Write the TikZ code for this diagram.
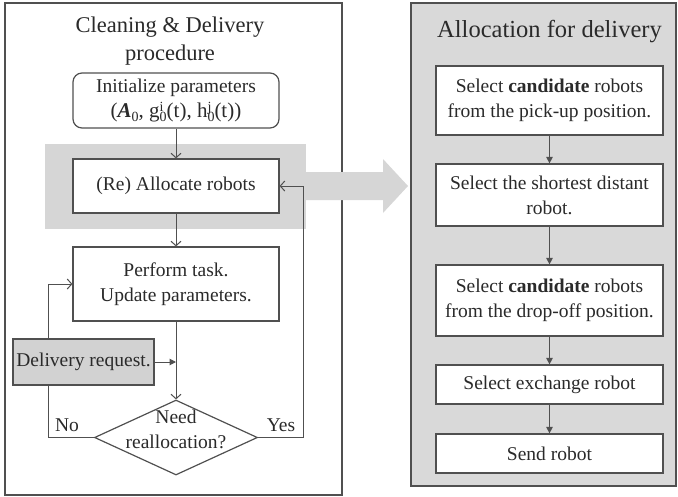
\documentclass[tikz,border=0pt]{standalone}
\usepackage{fontspec}
\setmainfont{Liberation Serif}
\usetikzlibrary{arrows.meta,shapes.geometric}
\definecolor{linegray}{HTML}{505050}
\definecolor{textgray}{HTML}{2A2A2A}
\definecolor{panelgray}{HTML}{D9D9D9}
\definecolor{bandgray}{HTML}{D6D6D6}
\definecolor{reqgray}{HTML}{D2D2D2}
% stacked sub- and superscript set in text mode
\newcommand{\idxfont}{\fontsize{14}{14}\selectfont}
\newcommand{\idx}[2]{\rlap{\raisebox{6.5pt}{\idxfont #2}}\raisebox{-3.5pt}{\idxfont #1}}
\tikzset{
  every node/.style={text=textgray, font=\fontsize{19.5}{25}\selectfont},
  panel/.style={draw=linegray, line width=1.1pt},
  stepbox/.style={draw=linegray, line width=1.2pt, fill=white, align=center,
    inner sep=0pt, anchor=center},
  openarrow/.style={draw=linegray, line width=1pt, -{Straight Barb[length=4.5pt,width=10pt]}},
  filledarrow/.style={draw=linegray, line width=1pt, -{Triangle[length=6.5pt,width=6.5pt]}},
  plainline/.style={draw=linegray, line width=1pt},
}
\begin{document}
\begin{tikzpicture}[x=1pt,y=-1pt]
\useasboundingbox (0,0) rectangle (678,496);

% ---- left panel: cleaning & delivery procedure ----
\draw[panel, fill=white] (5,3) rectangle (342,495);
\node[font=\fontsize{22.5}{28}\selectfont, align=center] (ltitle) at (170,41)
  {Cleaning \& Delivery\\procedure};

% highlighted allocation step
\fill[bandgray] (45,144) rectangle (306,229);

\node[stepbox, rounded corners=9pt, minimum width=206pt, minimum height=55pt] (init) at (176,100.5)
  {Initialize parameters\\
   {\fontsize{21}{25}\selectfont(\textbf{\textit{A}}\raisebox{-3.5pt}{\idxfont 0},\ g\idx{0}{i}(t),\ h\idx{0}{j}(t))}};
\node[stepbox, minimum width=206pt, minimum height=54pt] (alloc) at (176,186) {(Re) Allocate robots};
\node[stepbox, minimum width=206pt, minimum height=74pt] (perform) at (176,284)
  {Perform task.\\Update parameters.};
\node[diamond, draw=linegray, line width=1.2pt, fill=white, inner sep=0pt,
      minimum width=163pt, minimum height=75pt,
      label={[align=center, yshift=8.5pt]center:Need\\reallocation?}] (dec) at (176,437.5) {};

% feedback corners
\coordinate (nocorner) at (48,437.5);
\coordinate (yescorner) at (303,437.5);
\coordinate (join) at (perform.south |- 0,362);

\draw[plainline] (dec.west) -- (nocorner);
\draw[openarrow] (nocorner) |- (perform.west);
\draw[plainline] (dec.east) -- (yescorner);
\draw[openarrow] (yescorner) |- (alloc.east);

\node[stepbox, fill=reqgray, minimum width=141pt, minimum height=46pt] (req) at (83.5,362) {Delivery request.};

\draw[openarrow] (init) -- (alloc);
\draw[openarrow] (alloc) -- (perform);
\draw[openarrow] (perform) -- (dec.north);
\draw[filledarrow] (req.east) -- (join);

\node (nolabel) at (67,425) {No};
\node (yeslabel) at (281,425) {Yes};

% ---- right panel: allocation for delivery ----
\draw[panel, fill=panelgray] (411,3) rectangle (676,486);
\node[font=\fontsize{24.5}{30}\selectfont] (rtitle) at (549.5,32) {Allocation for delivery};

\node[stepbox, minimum width=227pt, minimum height=69pt] (s1) at (549.5,100.5)
  {Select \textbf{candidate} robots\\from the pick-up position.};
\node[stepbox, minimum width=227pt, minimum height=62pt] (s2) at (549.5,195)
  {Select the shortest distant\\robot.};
\node[stepbox, minimum width=227pt, minimum height=71pt] (s3) at (549.5,300.5)
  {Select \textbf{candidate} robots\\from the drop-off position.};
\node[stepbox, minimum width=227pt, minimum height=39pt] (s4) at (549.5,384.5) {Select exchange robot};
\node[stepbox, minimum width=227pt, minimum height=39pt] (s5) at (549.5,453.5) {Send robot};

\draw[filledarrow] (s1) -- (s2);
\draw[filledarrow] (s2) -- (s3);
\draw[filledarrow] (s3) -- (s4);
\draw[filledarrow] (s4) -- (s5);

% ---- wide arrow from the allocation step to its detail ----
\fill[bandgray] (306,172) -- (383,172) -- (383,159) -- (408,186) -- (383,213) -- (383,200) -- (306,200) -- cycle;
\end{tikzpicture}
\end{document}
